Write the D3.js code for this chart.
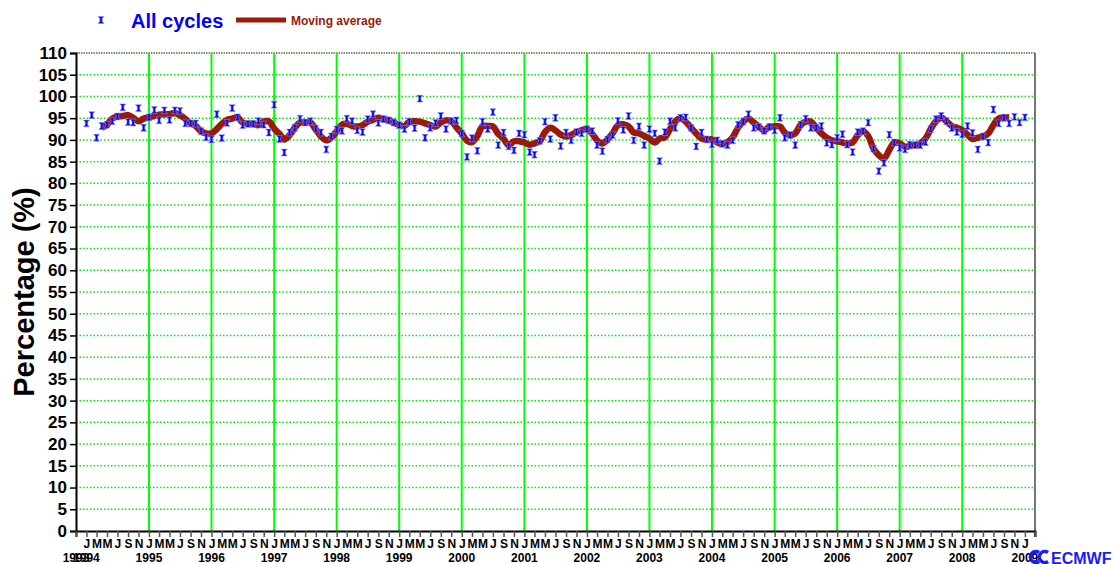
<!DOCTYPE html>
<html lang="en">
  <head>
    <meta charset="UTF-8" />
    <title>All cycles</title>
    <script src="https://cdn.jsdelivr.net/npm/d3@7"></script>
    <style>
      body { margin: 0; background: #fff; }
      text { font-family: Arial, "Liberation Sans", sans-serif; font-weight: bold; }
    </style>
  </head>
  <body>
    <svg width="1114" height="564"></svg>
  </body>

  <script>
    // monthly values, Jan 1994 .. Jan 2009
    var allCycles = [
      93.8, 95.7, 90.5, 93.2, 93.5, 94.3, 95.4, 97.5, 94.1, 94.0, 97.3, 92.8,
      95.2, 96.9, 94.5, 96.8, 94.6, 96.8, 96.7, 93.8, 93.8, 93.8, 92.0, 90.6,
      90.1, 95.9, 90.4, 93.9, 97.3, 95.2, 93.4, 93.7, 93.7, 94.3, 93.5, 91.7,
      98.1, 90.2, 87.1, 91.7, 92.8, 94.9, 94.0, 94.3, 92.6, 91.7, 87.8, 90.8,
      92.4, 92.1, 94.9, 94.3, 92.2, 91.8, 94.8, 95.9, 93.9, 94.8, 94.5, 94.0,
      93.4, 92.5, 94.2, 92.7, 99.5, 90.5, 92.8, 93.9, 95.5, 92.5, 94.3, 94.5,
      91.5, 86.1, 90.4, 87.5, 94.2, 92.5, 96.4, 88.8, 91.7, 88.5, 87.6, 91.5,
      91.2, 87.2, 86.6, 89.8, 94.2, 90.2, 95.1, 88.6, 91.7, 89.9, 91.8, 91.5,
      92.5, 92.0, 88.8, 87.4, 90.1, 91.1, 94.4, 92.3, 95.5, 89.9, 93.1, 88.8,
      92.5, 91.5, 85.1, 91.8, 94.3, 92.8, 95.1, 95.2, 92.8, 88.5, 91.7, 90.1,
      89.0, 89.9, 89.1, 88.8, 89.9, 93.5, 94.2, 95.9, 92.8, 93.0, 92.1, 93.0,
      92.2, 95.1, 90.5, 91.1, 88.8, 93.5, 94.9, 92.8, 92.8, 93.2, 89.3, 88.9,
      90.5, 91.3, 88.9, 87.2, 91.8, 92.0, 94.0, 88.0, 82.8, 84.7, 91.2, 89.4,
      88.2, 87.8, 88.9, 88.8, 88.8, 89.5, 92.5, 94.8, 95.5, 94.3, 92.7, 91.8,
      91.3, 93.2, 91.6, 87.8, 90.8, 89.4, 97.0, 93.8, 95.1, 93.8, 95.3, 94.0,
      95.2
    ];
    // moving average, Apr 1994 .. Oct 2008
    var maStart = 3;
    var movingAvg = [
                        92.8, 93.5, 94.9, 95.4, 95.5, 95.7, 95.1, 94.3, 94.9,
      95.2, 95.5, 95.8, 95.9, 95.9, 96.2, 95.7, 94.8, 93.8, 93.2, 92.0, 91.5,
      91.5, 92.5, 93.7, 94.6, 94.9, 95.2, 94.0, 93.7, 93.7, 93.4, 94.2, 94.3,
      92.6, 91.4, 90.1, 91.1, 92.8, 94.0, 94.0, 94.0, 92.4, 90.8, 89.9, 90.5,
      92.0, 93.5, 93.7, 93.2, 93.1, 93.4, 94.2, 94.6, 95.1, 94.8, 94.5, 94.0,
      93.4, 93.2, 94.2, 94.3, 94.2, 93.8, 93.4, 93.1, 94.0, 94.5, 94.3, 92.9,
      91.5, 89.8, 89.5, 90.9, 93.1, 93.2, 93.1, 91.4, 90.3, 88.8, 89.7, 89.7,
      89.4, 88.9, 89.2, 89.7, 91.8, 92.8, 92.2, 91.2, 90.8, 91.1, 91.8, 92.2,
      92.5, 91.4, 89.9, 89.2, 90.1, 91.6, 93.4, 93.6, 93.1, 91.7, 91.5, 90.9,
      90.3, 89.4, 90.3, 90.6, 92.5, 94.3, 94.9, 94.2, 92.8, 91.5, 90.3, 90.1,
      90.1, 89.4, 89.1, 89.5, 90.6, 92.8, 94.2, 94.9, 94.0, 93.0, 92.2, 93.0,
      93.1, 93.1, 91.7, 91.1, 91.5, 93.4, 94.2, 94.2, 92.8, 91.5, 90.5, 89.9,
      89.7, 89.4, 89.2, 89.4, 91.1, 92.0, 90.9, 88.0, 86.5, 85.7, 87.7, 89.4,
      89.2, 88.4, 88.6, 88.8, 89.2, 90.3, 92.5, 94.3, 95.1, 94.3, 93.2, 92.8,
      92.3, 91.2, 90.2, 90.5, 90.8, 91.5, 93.4, 94.9, 95.1, 95.2
    ];
    var yTicks = d3.range(0, 111, 5);
    var monthLetters = ['J', 'F', 'M', 'A', 'M', 'J', 'J', 'A', 'S', 'O', 'N', 'D'];

    var blue = '#0000ff';
    var red = '#991a0c';
    var green = '#00ee00';

    var svg = d3.select('svg');
    var plotL = 76, plotR = 1035, plotT = 53, plotB = 531;

    var x = d3.scaleTime()
      .domain([new Date(1993, 10, 1), new Date(2009, 2, 1)])
      .range([plotL, plotR]);
    var y = d3.scaleLinear().domain([0, 110]).range([plotB, plotT]);

    function monthDate(m) { return new Date(1994, m, 1); }

    // horizontal dotted grid
    svg.append('g').selectAll('line').data(yTicks.filter(function (d) { return d > 0 && d < 110; }))
      .enter().append('line')
      .attr('x1', plotL).attr('x2', plotR)
      .attr('y1', function (d) { return y(d); })
      .attr('y2', function (d) { return y(d); })
      .attr('stroke', green).attr('stroke-width', 1.5)
      .attr('stroke-dasharray', '1.5,2');

    // top frame line
    svg.append('line').attr('x1', plotL).attr('x2', plotR).attr('y1', y(110)).attr('y2', y(110))
      .attr('stroke', '#4a7a3a').attr('stroke-width', 1.5).attr('stroke-dasharray', '1.5,1');

    // vertical year lines
    var years = d3.timeYear.range(new Date(1995, 0, 1), new Date(2009, 0, 1));
    svg.append('g').selectAll('line').data(years).enter().append('line')
      .attr('x1', function (d) { return x(d); }).attr('x2', function (d) { return x(d); })
      .attr('y1', plotT).attr('y2', plotB)
      .attr('stroke', '#00ff00').attr('stroke-width', 2);

    // right frame
    svg.append('line').attr('x1', plotR).attr('x2', plotR).attr('y1', plotT).attr('y2', plotB + 6)
      .attr('stroke', '#777').attr('stroke-width', 2);

    // y axis
    var axisY = d3.axisLeft(y).tickValues(yTicks).tickSize(6).tickPadding(3);
    var gy = svg.append('g').attr('transform', 'translate(' + plotL + ',0)').call(axisY);
    gy.select('.domain').attr('stroke', '#000').attr('stroke-width', 2);
    gy.selectAll('.tick line').attr('stroke', '#000').attr('stroke-width', 1.5);
    gy.selectAll('.tick text').attr('font-size', 17).attr('fill', '#000')
      .style('font-family', 'Arial, "Liberation Sans", sans-serif').style('font-weight', 'bold');

    // x axis, ticks every 2 months
    var d0 = x.domain()[0], d1 = x.domain()[1];
    var axisX = d3.axisBottom(x)
      .ticks(d3.timeMonth.every(2))
      .tickSize(6).tickPadding(2)
      .tickFormat(function (d) {
        if (+d === +d0 || +d === +d1) return '';
        return monthLetters[d.getMonth()];
      });
    var gx = svg.append('g').attr('transform', 'translate(0,' + plotB + ')').call(axisX);
    gx.select('.domain').attr('stroke', '#000').attr('stroke-width', 2);
    gx.selectAll('.tick line').attr('stroke', '#555').attr('stroke-width', 1.5);
    gx.selectAll('.tick text').attr('font-size', 12).attr('fill', '#000')
      .style('font-family', 'Arial, "Liberation Sans", sans-serif').style('font-weight', 'bold');

    // year labels
    var yearLabels = [d0].concat(d3.timeYear.range(new Date(1994, 0, 1), new Date(2009, 0, 2)));
    svg.append('g').selectAll('text').data(yearLabels).enter().append('text')
      .attr('x', function (d) { return x(d); })
      .attr('y', 562)
      .attr('text-anchor', 'middle')
      .attr('font-size', 12)
      .attr('fill', '#000')
      .text(function (d) { return d.getFullYear(); });

    // moving average line
    var line = d3.line()
      .x(function (d, i) { return x(monthDate(maStart + i)); })
      .y(function (d) { return y(d); })
      .curve(d3.curveCatmullRom);
    svg.append('path').datum(movingAvg)
      .attr('d', line)
      .attr('fill', 'none')
      .attr('stroke', red).attr('stroke-width', 6.5)
      .attr('stroke-linejoin', 'round');

    // markers (I-beam)
    var marker = 'M-3,-3.4 H3 L1.2,-1.5 V1.5 L3,3.4 H-3 L-1.2,1.5 V-1.5 Z';
    svg.append('g').selectAll('path').data(allCycles).enter().append('path')
      .attr('transform', function (d, i) { return 'translate(' + x(monthDate(i)) + ',' + y(d) + ')'; })
      .attr('d', marker)
      .attr('fill', blue)
      .attr('stroke', '#8f8fff').attr('stroke-width', 0.6);

    // y title
    svg.append('text')
      .attr('transform', 'translate(34,292) rotate(-90)')
      .attr('text-anchor', 'middle')
      .attr('font-size', 29)
      .attr('fill', '#000')
      .text('Percentage (%)');

    // legend
    svg.append('path').attr('transform', 'translate(101,20)').attr('d', marker)
      .attr('fill', blue).attr('stroke', '#8f8fff').attr('stroke-width', 0.6);
    svg.append('text').attr('x', 131).attr('y', 28).attr('font-size', 20).attr('fill', blue)
      .text('All cycles');
    svg.append('line').attr('x1', 236).attr('x2', 286).attr('y1', 20).attr('y2', 20)
      .attr('stroke', red).attr('stroke-width', 5);
    svg.append('text').attr('x', 291).attr('y', 25).attr('font-size', 12).attr('fill', red)
      .text('Moving average');

    // ECMWF mark
    var logo = svg.append('g').attr('transform', 'translate(1030,557)');
    logo.append('path').attr('d', 'M9,-4.5 A5.5,5.5 0 1 0 9,4.5').attr('fill', 'none')
      .attr('stroke', '#1a1aff').attr('stroke-width', 3.5);
    logo.append('path').attr('d', 'M18,-4.5 A5.5,5.5 0 1 0 18,4.5').attr('fill', 'none')
      .attr('stroke', '#1a1aff').attr('stroke-width', 3.5);
    logo.append('text').attr('x', 21).attr('y', 7).attr('font-size', 16).attr('fill', '#1a1aff')
      .text('ECMWF');
  </script>
</html>
